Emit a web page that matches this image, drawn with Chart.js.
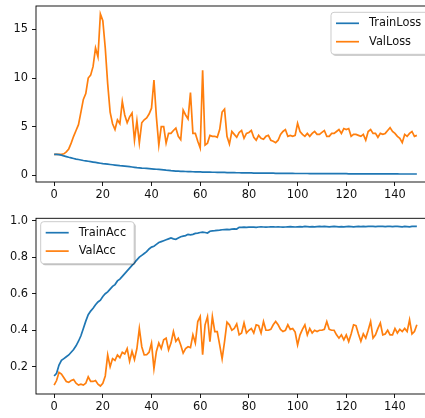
<!DOCTYPE html>
<html>
<head>
<meta charset="utf-8">
<script src="https://cdn.jsdelivr.net/npm/chart.js@4.4.1/dist/chart.umd.min.js"></script>
<style>
  html, body { margin: 0; padding: 0; background: #fff; overflow: hidden; width: 425px; height: 418px; }
  canvas { position: absolute; left: 0; }
  #lossChart { top: 0; }
  #accChart { top: 205px; }
</style>
</head>
<body>
<canvas id="lossChart" width="445" height="205"></canvas>
<canvas id="accChart" width="445" height="213"></canvas>
<script>
// values, one per epoch
var trainLoss = [2.15,2.14,2.12,2.06,1.98,1.91,1.84,1.78,1.72,1.66,
  1.61,1.56,1.51,1.47,1.43,1.39,1.35,1.31,1.27,1.23,
  1.19,1.16,1.13,1.10,1.07,1.04,1.01,0.98,0.96,0.93,
  0.90,0.87,0.84,0.81,0.78,0.76,0.73,0.71,0.69,0.67,
  0.65,0.63,0.61,0.59,0.57,0.54,0.51,0.49,0.46,0.44,
  0.42,0.41,0.40,0.39,0.38,0.37,0.36,0.35,0.34,0.33,
  0.33,0.32,0.32,0.31,0.31,0.30,0.30,0.29,0.29,0.28,
  0.28,0.27,0.27,0.26,0.26,0.25,0.25,0.24,0.24,0.23,
  0.23,0.23,0.22,0.22,0.22,0.21,0.21,0.21,0.20,0.20,
  0.20,0.19,0.19,0.19,0.19,0.18,0.18,0.18,0.18,0.17,
  0.17,0.17,0.17,0.17,0.17,0.16,0.16,0.16,0.16,0.16,
  0.16,0.16,0.15,0.15,0.15,0.15,0.15,0.15,0.15,0.15,
  0.15,0.14,0.14,0.14,0.14,0.14,0.14,0.14,0.14,0.14,
  0.14,0.13,0.13,0.13,0.13,0.13,0.13,0.13,0.13,0.13,
  0.13,0.13,0.12,0.12,0.12,0.12,0.12,0.12,0.12,0.12];

var valLoss = [2.15,2.15,2.15,2.15,2.2,2.4,2.7,3.3,4.0,4.6,
  5.2,6.5,7.8,8.4,10.0,10.3,11.2,13.1,12.2,16.6,
  15.9,13.1,9.4,6.5,5.3,4.7,5.7,5.3,7.6,6.2,
  5.4,6.0,6.4,3.6,5.6,3.3,5.4,5.7,5.9,6.3,
  6.9,9.8,6.0,3.1,5.0,5.0,3.3,4.3,4.3,4.6,
  4.85,4.0,3.65,6.7,6.2,5.8,8.5,4.3,4.3,3.5,
  2.8,10.8,3.1,3.3,4.1,4.0,4.0,3.9,4.7,6.5,
  6.8,4.0,3.2,4.5,4.2,3.9,4.4,4.6,3.8,4.3,
  4.4,4.6,3.9,3.6,4.1,3.8,3.7,4.0,4.1,3.6,
  3.5,3.35,3.6,4.2,4.5,4.7,4.0,4.1,4.0,4.1,
  5.35,4.5,4.2,4.0,4.3,4.0,4.3,4.5,4.2,4.2,
  4.4,4.6,4.0,4.0,4.3,4.3,4.5,4.7,4.3,4.8,
  4.7,4.8,4.0,4.2,4.2,4.1,4.0,4.2,3.6,4.5,
  4.7,4.3,4.3,3.9,4.3,4.2,4.3,4.6,4.9,4.5,
  4.3,4.0,3.8,3.35,4.2,4.0,4.3,4.5,4.0,4.1];

var trainAcc = [0.15,0.165,0.21,0.235,0.245,0.255,0.265,0.28,0.295,0.315,
  0.34,0.37,0.41,0.45,0.485,0.505,0.52,0.54,0.555,0.565,
  0.585,0.60,0.61,0.625,0.64,0.65,0.67,0.68,0.695,0.71,
  0.725,0.74,0.755,0.77,0.785,0.80,0.81,0.82,0.83,0.845,
  0.855,0.86,0.87,0.88,0.885,0.89,0.895,0.90,0.905,0.90,
  0.898,0.905,0.912,0.915,0.918,0.925,0.922,0.925,0.93,0.932,
  0.935,0.937,0.935,0.932,0.942,0.944,0.945,0.947,0.948,0.95,
  0.951,0.952,0.951,0.953,0.955,0.954,0.963,0.963,0.964,0.963,
  0.964,0.965,0.964,0.963,0.965,0.966,0.965,0.964,0.965,0.966,
  0.966,0.965,0.966,0.965,0.964,0.965,0.966,0.967,0.966,0.965,
  0.966,0.967,0.966,0.968,0.967,0.966,0.967,0.966,0.967,0.968,
  0.967,0.968,0.967,0.966,0.967,0.968,0.967,0.966,0.967,0.966,
  0.967,0.968,0.967,0.966,0.967,0.968,0.967,0.968,0.967,0.968,
  0.969,0.968,0.967,0.968,0.969,0.968,0.967,0.969,0.968,0.967,
  0.969,0.968,0.967,0.966,0.968,0.967,0.966,0.968,0.969,0.968];

var valAcc = [0.10,0.125,0.17,0.16,0.14,0.12,0.115,0.125,0.13,0.11,
  0.10,0.105,0.10,0.11,0.145,0.12,0.12,0.125,0.105,0.095,
  0.11,0.15,0.265,0.20,0.245,0.235,0.265,0.25,0.28,0.27,
  0.30,0.23,0.285,0.24,0.30,0.41,0.31,0.265,0.266,0.28,
  0.33,0.19,0.284,0.33,0.30,0.348,0.357,0.293,0.33,0.393,
  0.34,0.357,0.32,0.275,0.30,0.31,0.305,0.375,0.33,0.448,
  0.475,0.266,0.43,0.475,0.338,0.475,0.393,0.393,0.32,0.244,
  0.338,0.444,0.43,0.40,0.41,0.435,0.375,0.385,0.44,0.385,
  0.40,0.41,0.385,0.43,0.425,0.385,0.448,0.40,0.40,0.405,
  0.43,0.448,0.43,0.405,0.393,0.40,0.43,0.405,0.41,0.39,
  0.32,0.375,0.405,0.43,0.375,0.41,0.385,0.40,0.393,0.40,
  0.40,0.405,0.448,0.405,0.40,0.40,0.375,0.357,0.375,0.348,
  0.375,0.338,0.38,0.43,0.425,0.38,0.34,0.38,0.357,0.40,
  0.448,0.357,0.375,0.41,0.44,0.375,0.38,0.40,0.375,0.375,
  0.41,0.385,0.405,0.393,0.41,0.393,0.457,0.38,0.393,0.43];

var epochs = trainLoss.map(function(v, i) { return i; });
var xTicks = [0, 20, 40, 60, 80, 100, 120, 140];
var lossTicks = [0, 5, 10, 15];
var accTicks = [0.2, 0.4, 0.6, 0.8, 1.0];

var BLUE = '#1f77b4', ORANGE = '#ff7f0e';
var FONT = 'DejaVu Sans';
var FSIZE = 11.4;

Chart.defaults.font.family = FONT;
Chart.defaults.font.size = FSIZE;
Chart.defaults.color = '#111';

// matplotlib style 5% margins around the data
function padRange(lists) {
  var all = [].concat.apply([], lists);
  var lo = Math.min.apply(null, all), hi = Math.max.apply(null, all);
  var m = (hi - lo) * 0.05;
  return [lo - m, hi + m];
}

function points(vals) {
  return vals.map(function(v, i) { return { x: epochs[i], y: v }; });
}

// axes box + legend drawn like matplotlib
var mplFrame = {
  id: 'mplFrame',
  afterDraw: function(chart, args, opts) {
    var ctx = chart.ctx, a = chart.chartArea;
    ctx.save();
    ctx.strokeStyle = '#000';
    ctx.lineWidth = 0.9;
    ctx.strokeRect(a.left, a.top, a.right - a.left, a.bottom - a.top);

    ctx.font = FSIZE + 'px "' + FONT + '"';
    var sets = chart.data.datasets;
    var tw = Math.max.apply(null, sets.map(function(d) { return ctx.measureText(d.label).width; }));
    var w = 38 + tw + 8, h = 42;
    var x = opts.side === 'right' ? a.right - 5.7 - w : a.left + 4.7;
    var y = a.top + opts.dy;

    ctx.beginPath();
    ctx.roundRect(x + 1.5, y + 1.5, w, h, 3);
    ctx.fillStyle = 'rgba(0,0,0,0.25)';
    ctx.fill();
    ctx.beginPath();
    ctx.roundRect(x, y, w, h, 3);
    ctx.fillStyle = '#fff';
    ctx.fill();
    ctx.strokeStyle = '#ccc';
    ctx.lineWidth = 1;
    ctx.stroke();

    sets.forEach(function(d, i) {
      var cy = y + 11 + i * 18.4;
      ctx.beginPath();
      ctx.moveTo(x + 5, cy);
      ctx.lineTo(x + 28, cy);
      ctx.strokeStyle = d.borderColor;
      ctx.lineWidth = 1.7;
      ctx.stroke();
      ctx.fillStyle = '#111';
      ctx.textBaseline = 'middle';
      ctx.fillText(d.label, x + 38, cy);
    });
    ctx.restore();
  }
};

function makeChart(id, names, series, yTicks, fmt, topPad, bottomY, legendOpts) {
  var canvas = document.getElementById(id);
  var yr = padRange(series);
  var xr = padRange([epochs]);
  return new Chart(canvas, {
    type: 'line',
    data: {
      datasets: [
        { label: names[0], data: points(series[0]), borderColor: BLUE, borderWidth: 1.7, pointRadius: 0, tension: 0, fill: false },
        { label: names[1], data: points(series[1]), borderColor: ORANGE, borderWidth: 1.7, pointRadius: 0, tension: 0, fill: false }
      ]
    },
    options: {
      responsive: false,
      animation: false,
      events: [],
      layout: { padding: { left: 0, right: 10, top: topPad, bottom: 0 } },
      plugins: { legend: { display: false }, tooltip: { enabled: false }, mplFrame: legendOpts },
      scales: {
        x: {
          type: 'linear', min: xr[0], max: xr[1],
          afterBuildTicks: function(s) { s.ticks = xTicks.map(function(v) { return { value: v }; }); },
          afterFit: function(s) { s.height = canvas.height - bottomY; s.paddingLeft = 0; s.paddingRight = 0; },
          grid: { drawOnChartArea: false, drawTicks: true, tickLength: 4, tickColor: '#000', tickWidth: 0.9 },
          border: { display: false },
          ticks: { padding: 2, maxRotation: 0, autoSkip: false, color: '#111' }
        },
        y: {
          type: 'linear', min: yr[0], max: yr[1],
          afterBuildTicks: function(s) { s.ticks = yTicks.map(function(v) { return { value: v }; }); },
          afterFit: function(s) { s.width = 36; s.paddingTop = 0; s.paddingBottom = 0; },
          grid: { drawOnChartArea: false, drawTicks: true, tickLength: 4, tickColor: '#000', tickWidth: 0.9 },
          border: { display: false },
          ticks: { padding: 4, autoSkip: false, color: '#111', callback: fmt }
        }
      }
    },
    plugins: [mplFrame]
  });
}

makeChart('lossChart', ['TrainLoss', 'ValLoss'], [trainLoss, valLoss], lossTicks,
  function(v) { return String(v); }, 6, 182, { side: 'right', dy: 6.3 });
makeChart('accChart', ['TrainAcc', 'ValAcc'], [trainAcc, valAcc], accTicks,
  function(v) { return v.toFixed(1); }, 13.3, 189, { side: 'left', dy: 3.4 });
</script>
</body>
</html>
